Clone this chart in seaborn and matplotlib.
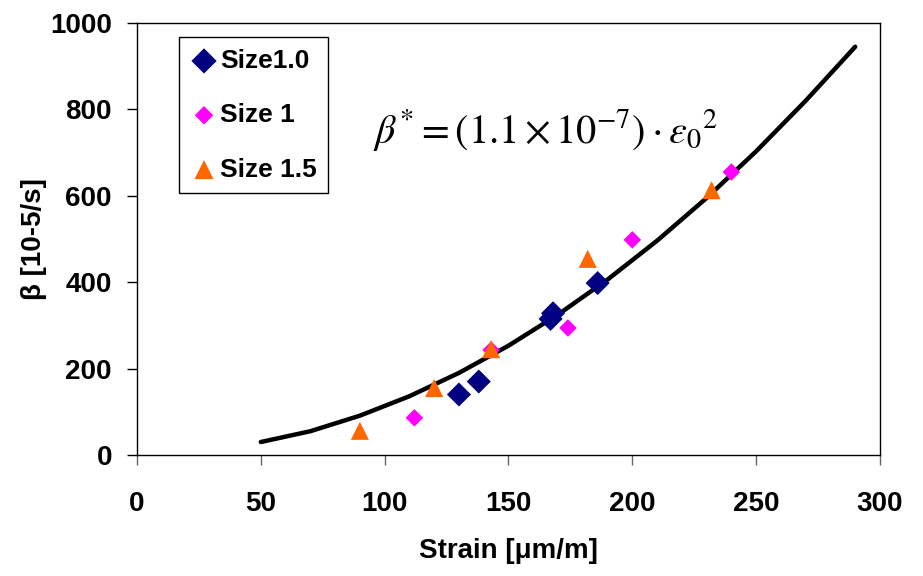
import pandas as pd
import matplotlib.pyplot as plt
import seaborn as sns

# fitted curve
curve_x = [50, 70, 90, 110, 130, 150, 170, 190, 210, 230, 250, 270, 290]
curve_y = [30, 55, 91, 136, 190, 253, 325, 406, 496, 595, 703, 820, 945]

# measured points
size10_x = [130, 138, 167, 168, 186]
size10_y = [140, 170, 315, 328, 398]
size1_x = [112, 143, 174, 200, 240]
size1_y = [86, 243, 294, 498, 655]
size15_x = [90, 120, 143, 182, 232]
size15_y = [56, 155, 245, 454, 613]

xticks = [0, 50, 100, 150, 200, 250, 300]
yticks = [0, 200, 400, 600, 800, 1000]

sns.set_style("ticks")
plt.rcParams['font.family'] = ['Liberation Sans', 'DejaVu Sans']
plt.rcParams['mathtext.fontset'] = 'stix'
plt.rcParams['text.color'] = 'black'
plt.rcParams['axes.labelcolor'] = 'black'
plt.rcParams['xtick.color'] = 'black'
plt.rcParams['ytick.color'] = 'black'

curve = pd.DataFrame({'x': curve_x, 'y': curve_y})
s10 = pd.DataFrame({'x': size10_x, 'y': size10_y})
s1 = pd.DataFrame({'x': size1_x, 'y': size1_y})
s15 = pd.DataFrame({'x': size15_x, 'y': size15_y})

fig = plt.figure(figsize=(9.23, 5.76), dpi=100)
ax = fig.add_axes([0.1484, 0.2101, 0.805, 0.750])

sns.lineplot(data=curve, x='x', y='y', color='black', linewidth=3.2, ax=ax, zorder=2)
sns.scatterplot(data=s10, x='x', y='y', marker='D', s=150, color='#000080',
                edgecolor='none', label='Size1.0', ax=ax, zorder=3)
sns.scatterplot(data=s1, x='x', y='y', marker='D', s=80, color='#FF00FF',
                edgecolor='none', label='Size 1', ax=ax, zorder=3)
sns.scatterplot(data=s15, x='x', y='y', marker='^', s=170, color='#FF6600',
                edgecolor='none', label='Size 1.5', ax=ax, zorder=4)

ax.set_xlim(0, 300)
ax.set_ylim(0, 1000)
ax.set_xticks(xticks)
ax.set_yticks(yticks)
ax.tick_params(labelsize=20, length=7, width=1, direction='out')
ax.tick_params(axis='x', pad=19, color='#666666')
ax.tick_params(axis='y', pad=11)
for lab in ax.get_xticklabels() + ax.get_yticklabels():
    lab.set_fontweight('bold')
for sp in ax.spines.values():
    sp.set_linewidth(1.0)
    sp.set_color('black')

ax.set_xlabel('Strain [μm/m]', fontsize=20, fontweight='bold', labelpad=15)
ax.set_ylabel('β [10-5/s]', fontsize=20, fontweight='bold', labelpad=2)

ax.text(165, 752, r'$\beta^{*} = (1.1\times10^{-7})\cdot\varepsilon_0{}^{2}$',
        fontsize=29, ha='center', va='center')

leg = ax.legend(loc='upper left', bbox_to_anchor=(0.0565, 0.9676), borderaxespad=0,
                prop={'size': 19, 'weight': 'bold'},
                frameon=True, fancybox=False, edgecolor='black', framealpha=1,
                handletextpad=0.1, labelspacing=1.15, borderpad=0.45,
                handlelength=1.0, markerscale=1.05)
leg.get_frame().set_linewidth(1.0)

plt.savefig('out.png', dpi=100)
